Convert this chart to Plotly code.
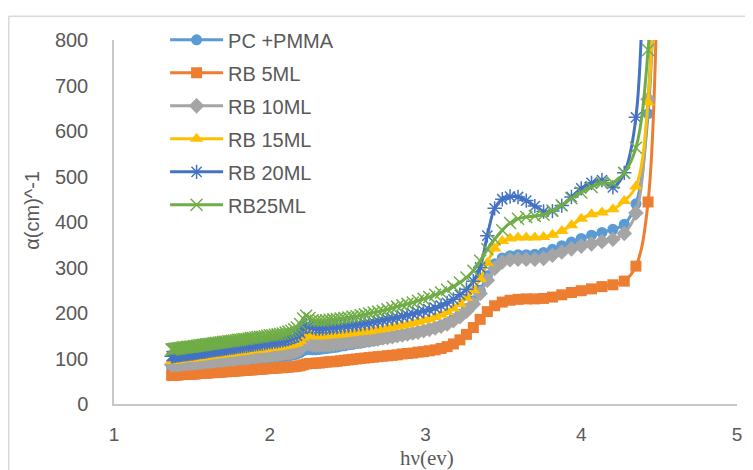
import plotly.graph_objects as go

# photon energy hv (eV)
hv = [1.370, 1.378, 1.386, 1.393, 1.401, 1.409, 1.417, 1.425, 1.434, 1.442,
      1.450, 1.459, 1.467, 1.476, 1.485, 1.494, 1.503, 1.512, 1.521, 1.531,
      1.540, 1.550, 1.560, 1.570, 1.580, 1.590, 1.600, 1.610, 1.621, 1.632,
      1.642, 1.653, 1.664, 1.676, 1.687, 1.699, 1.710, 1.722, 1.734, 1.747,
      1.759, 1.771, 1.784, 1.797, 1.810, 1.824, 1.837, 1.851, 1.865, 1.879,
      1.893, 1.908, 1.922, 1.938, 1.953, 1.968, 1.984, 2.000, 2.016, 2.033,
      2.050, 2.067, 2.084, 2.102, 2.120, 2.138, 2.157, 2.175, 2.195, 2.214,
      2.234, 2.255, 2.275, 2.296, 2.318, 2.340, 2.362, 2.385, 2.408, 2.431,
      2.455, 2.480, 2.505, 2.531, 2.557, 2.583, 2.611, 2.638, 2.667, 2.696,
      2.725, 2.756, 2.787, 2.818, 2.851, 2.884, 2.918, 2.952, 2.988, 3.024,
      3.062, 3.100, 3.139, 3.179, 3.221, 3.263, 3.307, 3.351, 3.397, 3.444,
      3.493, 3.543, 3.594, 3.647, 3.702, 3.758, 3.815, 3.875, 3.937, 4.000,
      4.066, 4.133, 4.203, 4.276, 4.351, 4.429, 4.509]

pc_pmma = [80, 80, 81, 81, 81, 81, 81, 82, 82, 83,
           83, 83, 84, 84, 84, 84, 84, 85, 85, 86,
           86, 86, 86, 87, 87, 88, 88, 88, 88, 89,
           89, 90, 90, 91, 91, 91, 92, 92, 93, 93,
           93, 93, 94, 95, 95, 96, 96, 96, 97, 98,
           98, 98, 99, 100, 100, 100, 101, 102, 102, 103,
           103, 104, 104, 105, 106, 107, 108, 110, 113, 117,
           120, 120, 119, 119, 120, 121, 122, 123, 124, 125,
           127, 128, 130, 131, 133, 134, 136, 137, 139, 141,
           143, 145, 147, 149, 151, 153, 155, 158, 161, 164,
           168, 173, 179, 187, 197, 210, 227, 250, 282, 308,
           321, 326, 328, 328, 329, 333, 340, 348, 356, 364,
           371, 377, 384, 395, 440, 638, 1500]

rb5 = [63, 63, 64, 64, 64, 64, 64, 65, 65, 65,
       65, 65, 66, 66, 66, 66, 66, 66, 66, 67,
       67, 67, 67, 68, 68, 68, 68, 69, 69, 69,
       69, 70, 70, 70, 70, 71, 71, 71, 72, 72,
       72, 72, 73, 73, 73, 74, 74, 74, 75, 75,
       75, 76, 76, 77, 77, 77, 78, 78, 78, 79,
       79, 80, 80, 81, 81, 82, 82, 83, 84, 86,
       88, 89, 89, 90, 90, 91, 92, 93, 93, 94,
       95, 96, 97, 98, 99, 100, 101, 102, 103, 104,
       105, 106, 107, 108, 110, 111, 112, 114, 115, 117,
       119, 122, 126, 132, 141, 153, 168, 186, 203, 216,
       224, 228, 230, 231, 231, 232, 235, 240, 245, 249,
       253, 258, 262, 270, 303, 444, 1400]

rb10 = [86, 86, 87, 87, 87, 87, 87, 88, 88, 89,
        89, 89, 90, 90, 90, 90, 90, 91, 91, 92,
        92, 92, 92, 93, 93, 94, 94, 94, 94, 95,
        95, 96, 96, 97, 97, 97, 98, 98, 99, 99,
        99, 99, 100, 101, 101, 102, 102, 102, 103, 104,
        104, 104, 105, 106, 106, 106, 107, 108, 108, 109,
        109, 110, 111, 112, 113, 114, 115, 117, 121, 127,
        133, 132, 130, 129, 129, 129, 130, 130, 131, 132,
        133, 134, 135, 136, 137, 138, 139, 140, 142, 143,
        145, 146, 148, 150, 152, 154, 156, 158, 161, 164,
        167, 171, 176, 183, 192, 204, 220, 243, 272, 298,
        312, 317, 318, 318, 318, 320, 327, 334, 341, 347,
        352, 357, 362, 375, 420, 670, 1500]

rb15 = [95, 95, 96, 96, 97, 97, 97, 98, 98, 99,
        99, 99, 100, 100, 100, 100, 100, 101, 101, 102,
        102, 103, 103, 104, 104, 105, 105, 106, 106, 107,
        107, 108, 108, 109, 109, 110, 110, 110, 111, 111,
        112, 112, 113, 114, 114, 115, 116, 116, 117, 118,
        118, 119, 120, 120, 120, 121, 122, 123, 123, 124,
        125, 126, 127, 128, 129, 130, 132, 134, 139, 146,
        153, 152, 150, 149, 149, 149, 150, 151, 151, 152,
        153, 154, 155, 156, 157, 158, 159, 160, 162, 163,
        165, 167, 169, 171, 173, 175, 178, 181, 184, 187,
        191, 196, 202, 210, 220, 233, 250, 275, 310, 342,
        358, 364, 366, 366, 366, 367, 372, 380, 393, 407,
        417, 421, 428, 446, 478, 663, 1500]

rb20 = [105, 105, 106, 106, 107, 107, 107, 108, 108, 109,
        109, 109, 110, 110, 111, 111, 111, 112, 112, 113,
        113, 114, 114, 115, 115, 116, 116, 117, 117, 118,
        118, 119, 119, 120, 120, 121, 122, 122, 123, 123,
        124, 124, 125, 126, 126, 127, 128, 128, 129, 130,
        130, 131, 132, 133, 133, 134, 135, 136, 136, 137,
        138, 139, 140, 141, 143, 145, 147, 150, 156, 165,
        173, 172, 168, 166, 166, 166, 167, 168, 168, 169,
        170, 171, 172, 173, 174, 175, 177, 178, 180, 182,
        184, 186, 188, 190, 193, 195, 198, 201, 204, 207,
        211, 216, 222, 230, 240, 252, 270, 300, 370, 430,
        450, 456, 455, 447, 435, 423, 424, 436, 455, 474,
        486, 492, 476, 508, 630, 1500, 2500]

rb25 = [120, 120, 121, 121, 122, 122, 122, 123, 123, 124,
        124, 124, 125, 125, 126, 126, 126, 127, 127, 128,
        128, 129, 129, 130, 130, 131, 131, 132, 132, 133,
        133, 134, 134, 135, 135, 136, 137, 137, 138, 138,
        139, 139, 140, 141, 141, 142, 143, 143, 144, 145,
        145, 146, 147, 148, 148, 149, 150, 151, 151, 152,
        153, 154, 155, 157, 159, 161, 164, 168, 176, 188,
        194, 189, 184, 183, 183, 183, 184, 185, 186, 187,
        188, 189, 190, 192, 193, 195, 197, 199, 201, 203,
        205, 208, 211, 214, 217, 220, 223, 227, 231, 235,
        240, 245, 251, 258, 267, 278, 293, 315, 340, 362,
        382, 398, 407, 411, 413, 416, 425, 437, 452, 465,
        477, 486, 486, 508, 563, 778, 1500]

series = [
    ("PC +PMMA", pc_pmma, "#5B9BD5", "circle", 11),
    ("RB 5ML", rb5, "#ED7D31", "square", 11),
    ("RB 10ML", rb10, "#A5A5A5", "diamond", 12),
    ("RB 15ML", rb15, "#FFC000", "triangle-up", 12),
    ("RB 20ML", rb20, "#4472C4", "asterisk-open", 12),
    ("RB25ML", rb25, "#70AD47", "x-thin-open", 12),
]

fig = go.Figure()
for i, (name, ys, col, sym, sz) in enumerate(series):
    marker = dict(symbol=sym, size=sz, color=col)
    if sym.endswith("open"):
        marker["line"] = dict(color=col, width=1.5)
    else:
        marker["line"] = dict(width=0)
    fig.add_trace(go.Scatter(
        x=hv, y=ys, name=name, mode="lines+markers",
        line=dict(color=col, width=3, shape="spline", smoothing=1),
        marker=marker, legendgroup=f"g{i}",
    ))

grey = "#595959"
# figure is placed 8px in from the page corner, so geometry is in figure px
L, T, W, H = 106, 25, 623, 371
B = T + H


def px(x):
    return (x - L) / W


def py(y):
    return (B - y) / H


fig.update_layout(
    width=745, height=462,
    margin=dict(l=L, r=16, t=T, b=462 - B),
    paper_bgcolor="white", plot_bgcolor="white",
    font=dict(family="Liberation Sans, Arial, sans-serif", size=20, color=grey),
    showlegend=True,
    legend=dict(x=0.082, y=1.054, xanchor="left", yanchor="top",
                bgcolor="rgba(0,0,0,0)", font=dict(size=20, color=grey),
                traceorder="grouped", tracegroupgap=4, itemwidth=53),
    xaxis=dict(range=[1, 5], tickvals=[1, 2, 3, 4, 5], showgrid=False,
               zeroline=False, showline=True, linecolor="#c8c8c8", linewidth=1.5,
               ticks="", tickfont=dict(size=19, color=grey), ticklabelstandoff=12),
    yaxis=dict(range=[0, 800], dtick=100, showgrid=False, zeroline=False,
               showline=True, linecolor="#c8c8c8", linewidth=1.5, ticks="",
               tickfont=dict(size=20, color=grey), ticklabelstandoff=20),
    annotations=[
        dict(text="α(cm)^-1", textangle=-90, xref="paper", yref="paper",
             x=px(24), y=py(199), xanchor="center",
             yanchor="middle", showarrow=False,
             font=dict(size=20, color=grey, family="Liberation Sans, Arial")),
        dict(text="hν(ev)", xref="paper", yref="paper",
             x=px(419), y=py(451), xanchor="center",
             yanchor="middle", showarrow=False,
             font=dict(size=21, color=grey, family="Liberation Serif, Times New Roman, serif")),
    ],
    shapes=[
        dict(type="line", xref="paper", yref="paper",
             x0=px(0.75), x1=px(0.75), y0=py(0.75), y1=py(470),
             line=dict(color="#d9d9d9", width=1.5)),
        dict(type="line", xref="paper", yref="paper",
             x0=px(0.75), x1=px(760), y0=py(0.75), y1=py(0.75),
             line=dict(color="#d9d9d9", width=1.5)),
    ],
)

fig.write_html("out.html")
